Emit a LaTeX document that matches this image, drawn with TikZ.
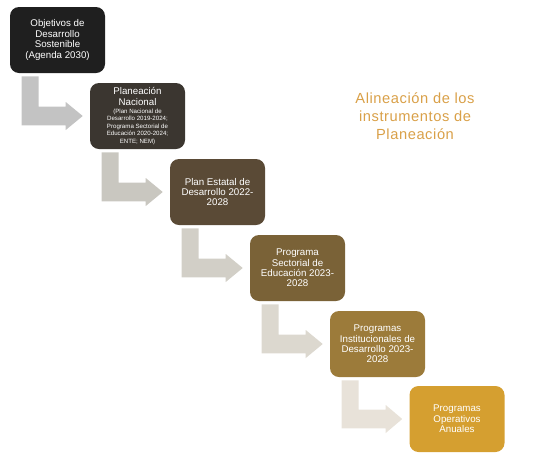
\documentclass[tikz,border=0pt]{standalone}
\usepackage{fontspec}
\setmainfont{Liberation Sans}
\newfontfamily\titlefont[LetterSpace=4]{Liberation Sans}
\usepackage{xcolor}
\usepackage{tikz}
\usetikzlibrary{calc}
\definecolor{tonoA}{RGB}{31,31,31}
\definecolor{tonoB}{RGB}{59,54,48}
\definecolor{tonoC}{RGB}{90,74,54}
\definecolor{tonoD}{RGB}{122,98,55}
\definecolor{tonoE}{RGB}{156,123,58}
\definecolor{tonoF}{RGB}{213,159,48}
\definecolor{flechaA}{RGB}{195,195,195}
\definecolor{flechaB}{RGB}{201,199,192}
\definecolor{flechaC}{RGB}{210,207,199}
\definecolor{flechaD}{RGB}{220,216,207}
\definecolor{flechaE}{RGB}{232,226,217}
\definecolor{titulo}{RGB}{217,160,72}
\newcommand{\nota}{\fontsize{4.6}{4.75}\selectfont}

% bent arrow from the bottom of one box to the west side of the next
\newcommand{\flecha}[3]{%
  \fill[#3] let \p1=(#1.south west), \p2=(#2.west) in
    (\x1+9pt,\y1-2.25pt) -- (\x1+21.75pt,\y1-2.25pt) -- (\x1+21.75pt,\y2+7.1pt)
    -- (\x1+42pt,\y2+7.1pt) -- (\x1+42pt,\y2+10.5pt) -- (\x2-5.25pt,\y2)
    -- (\x1+42pt,\y2-10.5pt) -- (\x1+42pt,\y2-7.1pt) -- (\x1+9pt,\y2-7.1pt) -- cycle;}

\begin{document}
\begin{tikzpicture}[x=0.75pt, y=-0.75pt,
    etapa/.style={rounded corners=6.75pt, minimum width=71.25pt, minimum height=49.5pt, inner sep=1pt,
      text=white, align=center, font=\fontsize{7.3}{7.8}\selectfont}
]
\useasboundingbox (0,0) rectangle (541,461);

\node[etapa, fill=tonoA] (e1) at (57.5,40) {Objetivos de\\Desarrollo\\Sostenible\\(Agenda 2030)};
\node[etapa, fill=tonoB] (e2) at (137.5,116) {Planeación\\Nacional\\[-1.5pt]
  {\nota (Plan Nacional de}\\[-2.2pt]
  {\nota Desarrollo 2019-2024;}\\[-2.2pt]
  {\nota Programa Sectorial de}\\[-2.2pt]
  {\nota Educación 2020-2024;}\\[-2.2pt]
  {\nota ENTE; NEM)}};
\node[etapa, fill=tonoC] (e3) at (217.5,192) {Plan Estatal de\\Desarrollo 2022-\\2028};
\node[etapa, fill=tonoD] (e4) at (297.5,268) {Programa\\Sectorial de\\Educación 2023-\\2028};
\node[etapa, fill=tonoE] (e5) at (377.5,344) {Programas\\Institucionales de\\Desarrollo 2023-\\2028};
\node[etapa, fill=tonoF] (e6) at (457,419) {Programas\\Operativos\\Anuales};

\flecha{e1}{e2}{flechaA}
\flecha{e2}{e3}{flechaB}
\flecha{e3}{e4}{flechaC}
\flecha{e4}{e5}{flechaD}
\flecha{e5}{e6}{flechaE}

\node[text=titulo, align=center, font=\titlefont\fontsize{11}{13.5}\selectfont] (tit) at (415,116)
  {Alineación de los\\instrumentos de\\Planeación};

\end{tikzpicture}
\end{document}
